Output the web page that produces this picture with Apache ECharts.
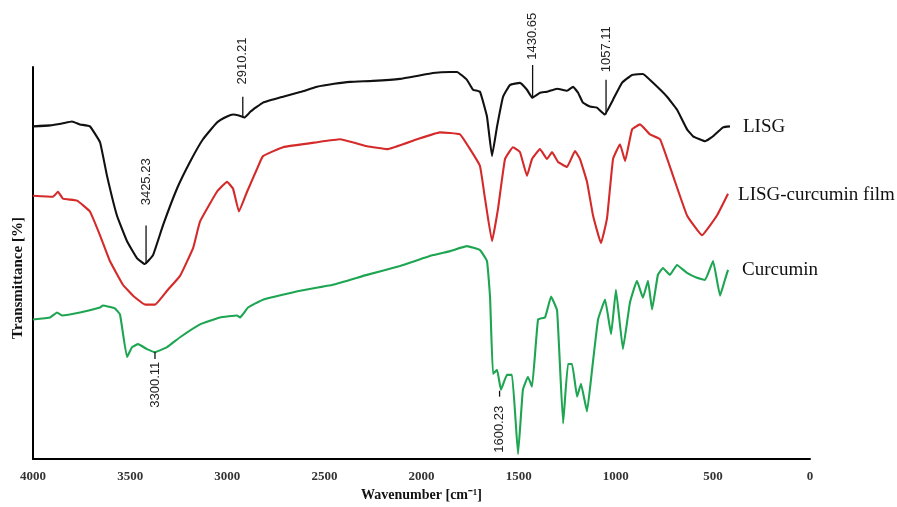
<!DOCTYPE html>
<html>
<head>
<meta charset="utf-8">
<script src="https://cdn.jsdelivr.net/npm/echarts@6/dist/echarts.min.js"></script>
<style>html,body{margin:0;padding:0;background:#fff}#c{width:897px;height:507px}</style>
</head>
<body>
<div id="c"></div>
<script>
// Wavenumber [cm-1], transmittance in arbitrary (offset) units
var seriesNames = ['LISG', 'LISG-curcumin film', 'Curcumin'];
var xTicks = [4000, 3500, 3000, 2500, 2000, 1500, 1000, 500, 0];

var lisg = [
  [4000,336],[3912,337],[3850,339],[3799,341],[3758,338],[3707,336],[3655,320],[3619,286],
  [3568,246],[3516,220],[3465,203],[3425,197],[3382,206],[3331,236],[3259,273],[3192,300],
  [3125,323],[3053,340],[3001,346],[2970,348],[2940,347],[2910,345],[2880,351],[2816,360],
  [2713,366],[2620,371],[2538,376],[2450,379],[2368,381],[2250,382],[2111,384],[2023,387],
  [1941,390],[1853,391],[1817,391],[1766,383],[1735,373],[1699,371],[1663,346],[1637,306],
  [1611,336],[1580,366],[1544,378],[1493,380],[1457,373],[1430,365],[1390,370],[1354,371],
  [1302,374],[1251,372],[1220,376],[1194,370],[1169,360],[1133,356],[1097,355],[1057,348],
  [1014,363],[968,380],[916,388],[860,389],[808,380],[736,366],[685,353],[633,333],
  [602,326],[540,321],[499,326],[448,335],[412,336]
];

var lisgFilm = [
  [4000,266],[3897,265],[3871,270],[3846,263],[3773,261],[3707,250],[3655,226],[3604,200],
  [3537,176],[3485,165],[3423,156],[3372,156],[3310,170],[3243,185],[3176,213],[3140,240],
  [3053,270],[3001,280],[2970,273],[2940,250],[2898,270],[2847,293],[2816,306],[2713,315],
  [2538,320],[2420,323],[2281,316],[2178,313],[2023,323],[1905,330],[1802,328],[1750,313],
  [1699,296],[1673,263],[1637,220],[1606,253],[1570,303],[1529,315],[1493,310],[1457,286],
  [1431,303],[1390,313],[1354,303],[1328,310],[1297,300],[1251,295],[1210,311],[1184,303],
  [1148,280],[1117,246],[1076,218],[1045,243],[1014,303],[978,318],[952,301],[916,333],
  [875,338],[824,328],[772,323],[705,286],[633,246],[556,226],[479,246],[422,268]
];

var curcumin = [
  [4000,141],[3912,143],[3876,148],[3851,145],[3758,148],[3655,153],[3640,155],[3578,152],
  [3552,146],[3516,103],[3490,113],[3459,116],[3413,111],[3372,108],[3310,113],[3243,123],
  [3140,136],[3037,143],[2950,145],[2934,143],[2893,153],[2816,161],[2625,170],[2456,176],
  [2281,186],[2111,195],[1941,206],[1853,210],[1766,215],[1699,211],[1663,200],[1647,163],
  [1632,86],[1611,90],[1591,70],[1560,85],[1534,85],[1503,5],[1478,70],[1452,83],
  [1431,73],[1400,141],[1364,143],[1333,164],[1302,150],[1271,36],[1246,96],[1225,96],
  [1199,63],[1179,76],[1148,48],[1122,90],[1091,141],[1055,161],[1024,126],[999,171],
  [963,111],[927,158],[891,180],[860,163],[834,180],[813,151],[783,186],[757,193],
  [721,186],[685,196],[633,188],[582,183],[540,181],[499,200],[463,165],[438,181],[422,191]
];

// Peak annotations: [position wavenumber, line start, line end, text centre]
var annotLabels = ['3425.23', '2910.21', '1430.65', '1057.11', '3300.11', '1600.23'];
var annotPos = [
  [3418, 236, 197, 280],
  [2920, 366, 345, 402],
  [1428, 398, 365, 427],
  [1050, 383, 348, 414],
  [3372, 108, 101, 75],
  [1598, 69, 63, 30]
];

var chart = echarts.init(document.getElementById('c'), null, {renderer: 'canvas'});

function lineSeries(name, data, color, dist, dy) {
  var last = data[data.length - 1];
  return {
    name: name, type: 'line', data: data, showSymbol: false, symbol: 'none',
    smooth: 0.1, clip: false,
    lineStyle: {color: color, width: 2.1},
    markPoint: {
      symbol: 'circle', symbolSize: 2, silent: true, animation: false,
      itemStyle: {color: 'rgba(0,0,0,0)'},
      label: {show: true, position: 'right', distance: dist, offset: [0, dy], formatter: name,
              fontFamily: 'Liberation Serif', fontSize: 19, color: '#111'},
      data: [{coord: last, value: name}]
    },
    z: 3
  };
}

chart.setOption({
  animation: false,
  backgroundColor: '#fff',
  grid: {left: 33, right: 87, top: 67, bottom: 44, containLabel: false},
  xAxis: {
    type: 'value', min: 0, max: 4000, interval: 500, inverse: true,
    name: 'Wavenumber [cm\u207B\u00B9]', nameLocation: 'middle', nameGap: 29,
    nameTextStyle: {fontFamily: 'Liberation Serif', fontWeight: 'bold', fontSize: 14, color: '#111'},
    axisLine: {show: true, onZero: false, lineStyle: {color: '#000', width: 2}},
    axisTick: {show: false},
    splitLine: {show: false},
    axisLabel: {fontFamily: 'Liberation Serif', fontWeight: 'bold', fontSize: 13, color: '#333', margin: 11,
      formatter: function (v) { return xTicks.indexOf(v) >= 0 ? String(v) : ''; }}
  },
  yAxis: {
    type: 'value', min: 0, max: 396,
    name: 'Transmittance [%]', nameLocation: 'middle', nameGap: 7, nameRotate: 90,
    nameTextStyle: {fontFamily: 'Liberation Serif', fontWeight: 'bold', fontSize: 15, color: '#111',
                    padding: [0, 30, 0, 0]},
    axisLine: {show: true, onZero: false, lineStyle: {color: '#000', width: 2}},
    axisTick: {show: false},
    axisLabel: {show: false},
    splitLine: {show: false}
  },
  series: [
    lineSeries(seriesNames[0], lisg, '#111111', 12, 1),
    lineSeries(seriesNames[1], lisgFilm, '#d42a2a', 9, 1),
    lineSeries(seriesNames[2], curcumin, '#1ea552', 13, 0),
    {
      type: 'custom', data: annotPos, clip: false, z: 4,
      renderItem: function (params, api) {
        var x = api.value(0);
        var p1 = api.coord([x, api.value(1)]);
        var p2 = api.coord([x, api.value(2)]);
        var pt = api.coord([x, api.value(3)]);
        return {type: 'group', children: [
          {type: 'line', shape: {x1: p1[0], y1: p1[1], x2: p2[0], y2: p2[1]},
           style: {stroke: '#111', lineWidth: 1.3}},
          {type: 'text', x: pt[0], y: pt[1], rotation: Math.PI / 2,
           style: {text: annotLabels[params.dataIndex], fontSize: 13, fontFamily: 'Liberation Sans',
                   fill: '#222', align: 'center', verticalAlign: 'middle'}}
        ]};
      }
    }
  ]
});
</script>
</body>
</html>
